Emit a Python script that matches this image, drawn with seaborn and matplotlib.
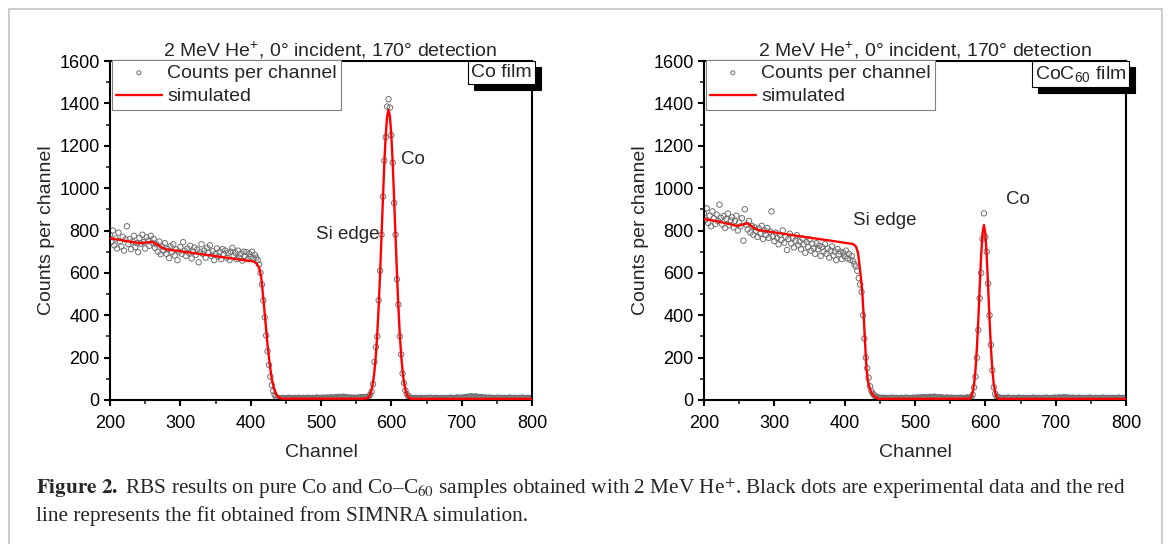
import numpy as np
import matplotlib
matplotlib.use('Agg')
import matplotlib.pyplot as plt
import matplotlib.transforms as mtransforms
from matplotlib.patches import Rectangle
from matplotlib.ticker import MultipleLocator
import seaborn as sns

# ── data (every 2nd channel) ──────────────────────────────────────────────
channels = np.arange(200, 801, 2)

counts_co = [
    780, 745, 800, 730, 762, 715, 790, 748, 725, 770,
    705, 758, 820, 735, 760, 712, 748, 775, 722, 740,
    698, 765, 738, 780, 745, 715, 768, 752, 728, 775,
    742, 760, 718, 735, 700, 748, 688, 725, 705, 740,
    690, 712, 670, 725, 698, 735, 682, 710, 660, 700,
    722, 690, 745, 705, 680, 715, 695, 728, 668, 700,
    720, 685, 710, 650, 698, 735, 690, 705, 672, 718,
    695, 730, 680, 702, 660, 690, 715, 678, 700, 665,
    712, 688, 705, 672, 695, 660, 700, 718, 680, 695,
    665, 705, 672, 690, 658, 700, 680, 698, 665, 690,
    675, 700, 668, 685, 672, 660, 640, 600, 545, 470,
    390, 305, 230, 165, 110, 70, 42, 25, 15, 10,
    8, 9, 7, 10, 8, 6, 9, 11, 8, 7,
    9, 10, 8, 7, 11, 9, 8, 10, 7, 9,
    8, 11, 9, 7, 10, 8, 9, 12, 8, 10,
    9, 11, 10, 8, 12, 10, 9, 13, 11, 10,
    12, 14, 11, 15, 13, 12, 16, 12, 14, 11,
    10, 12, 9, 11, 10, 8, 11, 12, 10, 14,
    12, 14, 10, 12, 18, 25, 40, 75, 180, 250,
    300, 470, 610, 780, 960, 1130, 1240, 1385, 1420, 1380,
    1250, 1120, 930, 780, 570, 450, 300, 215, 125, 80,
    45, 28, 18, 12, 10, 9, 8, 10, 9, 8,
    9, 10, 8, 7, 9, 10, 8, 9, 11, 8,
    9, 8, 10, 9, 7, 9, 10, 8, 9, 10,
    8, 9, 11, 10, 8, 9, 10, 12, 9, 10,
    11, 12, 10, 13, 15, 14, 16, 18, 15, 14,
    17, 15, 13, 12, 14, 11, 10, 12, 9, 10,
    11, 9, 10, 8, 9, 10, 11, 9, 8, 10,
    9, 10, 8, 9, 11, 10, 9, 8, 10, 9,
    8, 10, 9, 11, 10, 8, 9, 10, 9, 8,
    9,
]

counts_coc60 = [
    880, 850, 905, 835, 870, 820, 890, 858, 830, 875,
    845, 922, 860, 828, 868, 812, 855, 880, 825, 848,
    862, 815, 845, 870, 800, 838, 820, 858, 752, 900,
    828, 805, 845, 790, 822, 780, 815, 798, 770, 810,
    785, 822, 760, 800, 778, 812, 765, 795, 890, 772,
    750, 790, 765, 735, 780, 755, 800, 742, 770, 708,
    760, 785, 738, 765, 720, 752, 778, 730, 748, 712,
    762, 735, 695, 745, 722, 758, 705, 738, 715, 690,
    740, 712, 728, 680, 722, 700, 735, 690, 715, 672,
    705, 725, 682, 700, 660, 712, 688, 700, 665, 695,
    678, 705, 668, 690, 662, 680, 655, 640, 630, 610,
    575, 545, 510, 400, 290, 200, 150, 105, 65, 42,
    30, 22, 17, 14, 12, 10, 9, 11, 8, 10,
    9, 8, 10, 9, 11, 8, 9, 10, 8, 9,
    10, 9, 8, 11, 9, 10, 8, 9, 10, 11,
    9, 10, 12, 11, 10, 13, 12, 14, 12, 11,
    13, 15, 12, 14, 16, 13, 12, 11, 13, 10,
    11, 9, 10, 12, 9, 10, 11, 8, 10, 9,
    10, 9, 11, 10, 9, 8, 10, 12, 10, 12,
    14, 25, 60, 110, 200, 330, 480, 600, 760, 881,
    770, 700, 550, 400, 260, 140, 60, 30, 18, 13,
    11, 10, 9, 10, 8, 9, 11, 10, 9, 8,
    10, 9, 8, 10, 11, 9, 8, 10, 9, 8,
    9, 10, 8, 9, 11, 10, 9, 8, 10, 9,
    8, 10, 9, 11, 10, 9, 8, 10, 9, 11,
    10, 9, 11, 12, 10, 11, 13, 12, 10, 11,
    10, 9, 11, 10, 8, 9, 10, 11, 9, 10,
    9, 8, 10, 9, 11, 10, 9, 8, 10, 9,
    10, 9, 8, 11, 10, 9, 10, 8, 9, 10,
    9, 10, 8, 9, 10, 11, 9, 8, 10, 9,
    10,
]

# simulated (SIMNRA) curves
sim_ch_co = [200, 220, 243, 252, 260, 268, 278, 300, 350, 380,
             404, 408, 412, 415, 418, 421, 424, 427, 430, 433,
             436, 440, 445, 560, 566, 568, 570, 572, 574, 576,
             578, 580, 582, 584, 586, 588, 590, 592, 594, 596,
             598, 600, 602, 604, 606, 608, 610, 612, 614, 616,
             618, 620, 622, 624, 626, 630, 800]
sim_co = [764, 752, 740, 744, 746, 732, 712, 702, 679, 665,
          654, 645, 625, 580, 480, 370, 260, 170, 100, 55,
          28, 12, 6, 6, 8, 15, 27, 49, 83, 136,
          211, 312, 441, 596, 769, 946, 1113, 1249, 1338, 1370,
          1338, 1249, 1113, 946, 769, 596, 441, 312, 211, 136,
          83, 49, 27, 15, 8, 5, 5]

sim_ch_coc60 = [200, 220, 248, 255, 262, 270, 277, 300, 350, 380,
                412, 416, 419, 421, 423, 425, 427, 429, 431, 433,
                436, 439, 443, 448, 578, 580, 582, 584, 586, 588,
                590, 592, 594, 596, 598, 600, 602, 604, 606, 608,
                610, 612, 614, 616, 618, 620, 800]
sim_coc60 = [854, 843, 821, 828, 834, 815, 802, 791, 766, 752,
             736, 725, 694, 640, 580, 510, 400, 270, 150, 90,
             50, 30, 14, 5, 6, 16, 36, 75, 142, 244,
             378, 532, 680, 786, 826, 786, 680, 532, 378, 244,
             142, 75, 36, 16, 6, 5, 5]

# ── style ─────────────────────────────────────────────────
sns.set_style('ticks')
plt.rcParams['font.family'] = ['Liberation Sans', 'DejaVu Sans']
plt.rcParams['mathtext.fontset'] = 'custom'
plt.rcParams['mathtext.rm'] = 'Liberation Sans'
plt.rcParams['mathtext.it'] = 'Liberation Sans:italic'
plt.rcParams['mathtext.bf'] = 'Liberation Sans:bold'

FS = 14
title = '2 MeV He$^{+}$, 0° incident, 170° detection'

fig = plt.figure(figsize=(11.68, 5.44), dpi=100)
ax_l = fig.add_axes([110/1168, 1 - 400/544, 422/1168, 339/544])
ax_r = fig.add_axes([704/1168, 1 - 400/544, 422/1168, 339/544])

panels = [
    (ax_l, counts_co, sim_ch_co, sim_co, 'Co film',
     (493, 779), (614, 1133), 0.521),
    (ax_r, counts_coc60, sim_ch_coc60, sim_coc60, 'CoC$_{60}$ film',
     (412, 845), (629, 944), 0.524),
]

for ax, cnt, sch, sim, tag, si_pos, co_pos, tx in panels:
    sns.scatterplot(x=channels, y=cnt, ax=ax, marker='o', s=15,
                    facecolor='none', edgecolor='#707070', linewidth=0.7,
                    label='Counts per channel', zorder=2)
    sns.lineplot(x=sch, y=sim, ax=ax, color='#ff0000', lw=1.7,
                 estimator=None, sort=False, label='simulated', zorder=3)

    ax.set_xlim(200, 800)
    ax.set_ylim(0, 1600)
    ax.xaxis.set_major_locator(MultipleLocator(100))
    ax.xaxis.set_minor_locator(MultipleLocator(50))
    ax.yaxis.set_major_locator(MultipleLocator(200))
    ax.yaxis.set_minor_locator(MultipleLocator(100))
    ax.tick_params(which='major', direction='out', length=4.5, width=1.5,
                   labelsize=13, colors='black')
    ax.tick_params(which='minor', direction='out', length=2.6, width=1.2)
    ax.tick_params(axis='x', which='major', pad=6)
    ax.tick_params(axis='y', which='major', pad=3)
    for s in ax.spines.values():
        s.set_linewidth(1.5)
        s.set_color('black')
    ax.set_xlabel('Channel', fontsize=FS, labelpad=9)
    ax.set_ylabel('Counts per channel', fontsize=FS, labelpad=3)
    ax.set_title(title, fontsize=FS, pad=3, x=tx)

    h, l = ax.get_legend_handles_labels()
    leg = ax.legend(h, l, loc='upper left', bbox_to_anchor=(0.004, 1.003),
                    borderaxespad=0, fontsize=FS, frameon=True, fancybox=False,
                    framealpha=1, edgecolor='#808080', borderpad=0.22,
                    labelspacing=0.3, handlelength=2.35, handletextpad=0.3,
                    markerscale=0.75)
    leg.get_frame().set_linewidth(0.8)

    ax.text(si_pos[0], si_pos[1], 'Si edge', fontsize=13.5, ha='left', va='center')
    ax.text(co_pos[0], co_pos[1], 'Co', fontsize=13.5, ha='left', va='center')

    # label box with a black drop shadow
    shadow = mtransforms.offset_copy(ax.transAxes, fig=fig, x=6, y=-6, units='dots')
    ax.text(1.0, 0.992, tag, transform=shadow, fontsize=FS, ha='right', va='top',
            color='black', clip_on=False, zorder=5,
            bbox=dict(boxstyle='square,pad=0.15', fc='black', ec='black', lw=0.8))
    ax.text(1.0, 0.992, tag, transform=ax.transAxes, fontsize=FS, ha='right',
            va='top', clip_on=False, zorder=6,
            bbox=dict(boxstyle='square,pad=0.15', fc='white', ec='black', lw=0.8))

# caption under the panels
fig.text(36/1168, 1 - 489/544,
         r'$\mathbf{Figure\ 2.}$ RBS results on pure Co and Co–C$_{60}$ samples obtained '
         r'with 2 MeV He$^{+}$. Black dots are experimental data and the red',
         fontsize=15.3, family='Liberation Serif', math_fontfamily='stix',
         ha='left', va='center')
fig.text(36/1168, 1 - 516/544,
         'line represents the fit obtained from SIMNRA simulation.',
         fontsize=15.3, family='Liberation Serif', ha='left', va='center')

# thin grey frame around the figure
fig.add_artist(Rectangle((8.5/1168, -0.05), 1153/1168, 1.05 - 8.5/544,
                         transform=fig.transFigure, fill=False,
                         ec='#c4c4c4', lw=1.2))

fig.savefig('out.png', dpi=100)
